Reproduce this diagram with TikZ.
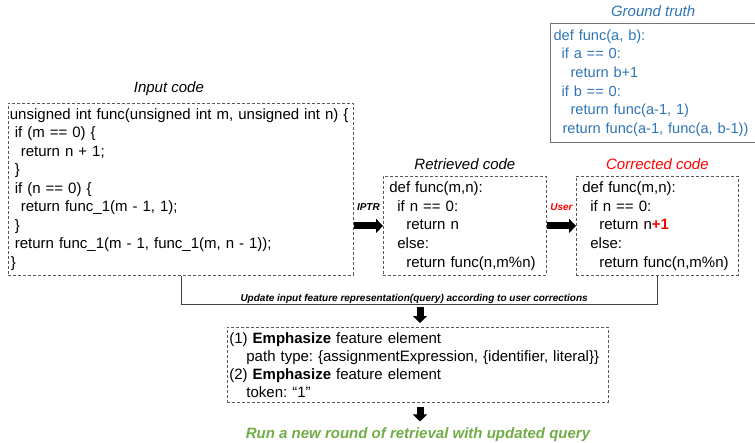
\documentclass[tikz,border=0pt]{standalone}
\usepackage{fontspec}
\setmainfont{Liberation Sans}
\frenchspacing
\usetikzlibrary{positioning,arrows.meta,calc}
\definecolor{truthblue}{RGB}{46,117,182}
\definecolor{fixred}{RGB}{255,0,0}
\definecolor{rungreen}{RGB}{112,173,71}
\tikzset{
    code_block/.style={rectangle, draw=black!65, dash pattern=on 3pt off 2pt, line width=0.8pt, anchor=north west, align=left, inner ysep=0pt, font=\fontsize{15}{18.5}\selectfont},
    truth_block/.style={rectangle, draw=black!55, line width=1.2pt, anchor=north west, align=left, inner xsep=3pt, inner ysep=0pt, text=truthblue, font=\fontsize{14.6}{18.6}\selectfont},
    title/.style={inner sep=0pt, text depth=3pt, font=\fontsize{15}{18}\selectfont\itshape},
    tag/.style={inner sep=0pt, font=\fontsize{10}{12}\selectfont\bfseries\itshape},
    fat/.style={-{Triangle[length=7pt,width=14pt]}, line width=7pt},
    line/.style={draw=black!75, line width=0.8pt},
}

\begin{document}
\begin{tikzpicture}
        [x=1pt, y=-1pt, node distance=3pt]
        \useasboundingbox (0,0) rectangle (755,442);

        % Code boxes
        \node[code_block, text width=342pt, inner xsep=1.5pt, minimum height=172pt] (input) at (8,103) {%
            \mbox{unsigned int func(unsigned int m, unsigned int n) \{}\\
            \hspace*{5pt}if (m == 0) \{\\
            \hspace*{11pt}return n + 1;\\
            \hspace*{5pt}\}\\
            \hspace*{5pt}if (n == 0) \{\\
            \hspace*{11pt}return func\_1(m - 1, 1);\\
            \hspace*{5pt}\}\\
            \hspace*{5pt}return func\_1(m - 1, func\_1(m, n - 1));\\
            \hspace*{1pt}\}};
        \node[code_block, text width=151pt, inner xsep=6pt, minimum height=99pt, font=\fontsize{15}{18.75}\selectfont] (retrieved) at (383,176) {%
            def func(m,n):\\
            \hspace*{8pt}if n == 0:\\
            \hspace*{17pt}return n\\
            \hspace*{8pt}else:\\
            \hspace*{17pt}return func(n,m\%n)};
        \node[code_block, text width=150pt, inner xsep=6pt, minimum height=99pt, font=\fontsize{15}{18.75}\selectfont] (corrected) at (576,176) {%
            def func(m,n):\\
            \hspace*{8pt}if n == 0:\\
            \hspace*{17pt}return n\textcolor{fixred}{\bfseries +1}\\
            \hspace*{8pt}else:\\
            \hspace*{17pt}return func(n,m\%n)};
        \node[truth_block, text width=199pt, minimum height=119pt] (truth) at (550,23) {%
            def func(a, b):\\
            \hspace*{8pt}if a == 0:\\
            \hspace*{17pt}return b+1\\
            \hspace*{8pt}if b == 0:\\
            \hspace*{17pt}return func(a-1, 1)\\
            \hspace*{9pt}\mbox{return func(a-1, func(a, b-1))}};
        \node[code_block, text width=377pt, inner xsep=2pt, minimum height=75pt, font=\fontsize{15}{18}\selectfont] (emph) at (227,327) {%
            (1) \textbf{Emphasize} feature element\\
            \hspace*{17pt}\mbox{path type: \{assignmentExpression, \{identifier, literal\}\}}\\
            (2) \textbf{Emphasize} feature element\\
            \hspace*{17pt}token: “1”};

        % Titles
        \node[title, above=7pt of input, xshift=-12pt] (input_title) {Input code};
        \node[title, above=of retrieved] (retrieved_title) {Retrieved code};
        \node[title, above=of corrected, text=fixred] (corrected_title) {Corrected code};
        \node[title, above=of truth, text=truthblue] (truth_title) {Ground truth};
        \node[font=\fontsize{15}{18}\selectfont\bfseries\itshape, text=rungreen] (newround) at (418,435) {Run a new round of retrieval with updated query};

        % Arrows
        \draw[fat] (input.east |- retrieved) -- node[tag, above=12pt] (iptr) {IPTR} (retrieved.west);
        \draw[fat] (retrieved.east) -- node[tag, above=12pt, text=fixred] (user) {User} (corrected.west);
        \draw[line] (input.south) -- ++(0,29) coordinate (corner)
            -- node[tag, above=1pt, xshift=-5pt] (update) {Update input feature representation(query) according to user corrections} (corner -| corrected.south)
            -- (corrected.south);
        \coordinate (split) at (420,304);
        \draw[fat] ([yshift=-3pt]split) -- ([yshift=4pt]emph.north -| split);
        \draw[fat] ([yshift=-4pt]emph.south -| split) -- ([yshift=3pt]newround.north -| split);

    \end{tikzpicture}
\end{document}
